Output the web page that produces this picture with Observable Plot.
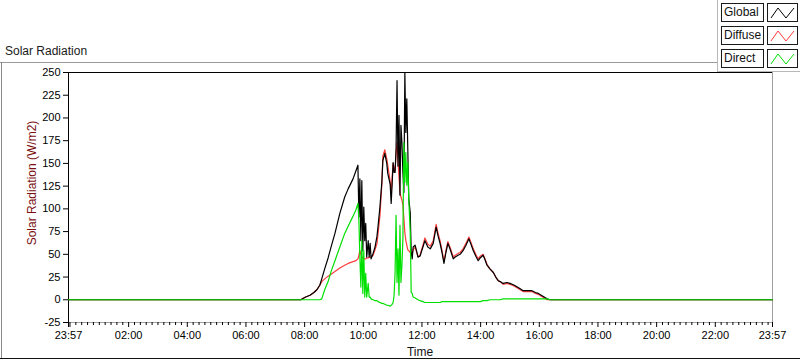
<!DOCTYPE html>
<html>
<head>
<meta charset="utf-8">
<script src="https://cdn.jsdelivr.net/npm/d3@7"></script>
<script src="https://cdn.jsdelivr.net/npm/@observablehq/plot@0.6"></script>
<style>
  html, body { margin: 0; padding: 0; background: #fff; }
  #wrap { position: relative; width: 800px; height: 361px; overflow: hidden; background: #fff;
          font-family: "Liberation Sans", Arial, sans-serif; color: #111; }
  #chart { position: absolute; left: 0; top: 0; }
  #chart svg g[aria-label="rule"] line { shape-rendering: crispEdges; }
  .abs { position: absolute; }
  .legend-panel { left: 717px; top: 0; width: 83px; height: 71px; background: #fff;
                  border-left: 1px solid #b8b8b8; border-bottom: 1px solid #b8b8b8; }
  .lab { position: absolute; left: 3px; border: 1px solid #1a1a1a;
         background: #fff; font-size: 12px; line-height: 17px; padding-left: 2px; box-sizing: border-box; width: 43px; height: 19px; }
  .ico { position: absolute; left: 49px; width: 31px; height: 19px; border: 1px solid #1a1a1a;
         background: #fff; box-sizing: border-box; }
</style>
</head>
<body>
<div id="wrap">
  <div id="chart"></div>
  <div class="abs" style="left:0;top:62px;width:717px;height:1px;background:#9a9a9a"></div>
  <div class="abs" style="left:1px;top:62px;width:1px;height:297px;background:#8a8a8a"></div>
  <div class="abs" style="left:0;top:358px;width:800px;height:1px;background:#111"></div>
  <div class="abs" style="left:5px;top:44px;font-size:12px;line-height:14px;color:#1a1a1a">Solar Radiation</div>
  <div class="abs" id="ylab" style="left:32px;top:183px;font-size:12px;line-height:14px;color:#7a1010;white-space:nowrap;transform:translate(-50%,-50%) rotate(-90deg)">Solar Radiation (W/m2)</div>
  <div class="abs" id="xlab" style="left:420px;top:345px;font-size:12px;line-height:14px;color:#111;transform:translateX(-50%)">Time</div>
  <div class="abs legend-panel" id="legend"></div>
</div>
<script>
// ---- data ----
// time in minutes since midnight (-3 = 23:57 of the previous day, 1437 = 23:57)
const minutes = [-3, 472, 482, 491, 499, 505, 511, 515, 521, 528, 534, 542, 552, 562, 569, 579, 585, 589, 591, 593,
  595, 597, 599, 601, 603, 605, 607, 610, 612, 614, 616, 620, 624, 628, 630, 634, 638, 640, 644, 648,
  650, 655, 657, 659, 661, 663, 665, 667, 669, 671, 673, 675, 677, 679, 681, 683, 685, 687, 689, 691,
  693, 696, 698, 700, 702, 706, 712, 716, 722, 726, 732, 737, 743, 749, 753, 757, 761, 765, 769, 773,
  778, 784, 788, 794, 798, 804, 810, 816, 821, 825, 831, 835, 839, 845, 849, 853, 859, 866, 872, 876,
  880, 886, 894, 900, 909, 915, 921, 927, 935, 945, 952, 958, 964, 970, 976, 982, 1437];

const globalW = [0, 0, 3, 5, 8, 11, 16, 23, 34, 46, 58, 73, 95, 113, 122, 133, 142, 148, 91, 133,
  65, 131, 54, 102, 65, 84, 47, 65, 47, 62, 45, 51, 58, 70, 80, 102, 130, 153, 161, 150,
  139, 127, 106, 127, 151, 140, 140, 166, 241, 147, 203, 115, 192, 173, 140, 118, 250, 184, 221, 166,
  111, 96, 52, 45, 58, 60, 47, 48, 58, 65, 58, 56, 62, 80, 70, 62, 52, 40, 52, 62,
  55, 45, 47, 49, 50, 54, 60, 67, 60, 54, 47, 43, 46, 49, 44, 38, 34, 30, 24, 21,
  20, 18, 19, 18, 16, 14, 12, 10, 10, 10, 8, 7, 5, 3, 1, 0, 0];

const diffuseW = [0, 0, 3, 5, 8, 11, 16, 20, 23, 26, 28, 31, 35, 38, 40, 42, 43, 45, 49, 54,
  50, 47, 46, 45, 45, 45, 46, 46, 47, 47, 47, 49, 55, 62, 72, 92, 128, 158, 165, 155,
  148, 130, 116, 135, 150, 145, 142, 160, 173, 153, 135, 118, 113, 110, 104, 90, 74, 65, 60, 55,
  54, 52, 52, 51, 55, 58, 47, 49, 60, 68, 61, 59, 65, 83, 73, 65, 54, 42, 54, 64,
  57, 47, 49, 51, 52, 56, 62, 69, 62, 56, 49, 45, 48, 50, 45, 39, 34, 30, 24, 21,
  20, 17, 18, 17, 15, 13, 11, 9, 9, 9, 7, 6, 4, 2, 0, 0, 0];

const directW = [0, 0, 0, 0, 0, 0, 0, 1, 11, 20, 31, 43, 58, 73, 81, 92, 99, 106, 87, 47,
  14, 65, 7, 54, 3, 29, 3, 18, 3, 3, 1, 0, -1, -1, -2, -3, -4, -4, -5, -6,
  -6, -7, -6, -5, -3, 5, 30, 93, 19, 56, 5, 82, 19, 38, 67, 173, 129, 162, 126, 151,
  111, 74, 8, 7, 3, 2, 0, -1, -2, -3, -3, -3, -3, -3, -3, -3, -2, -2, -2, -2,
  -2, -2, -2, -2, -2, -2, -2, -2, -2, -2, -2, -2, -2, -1, -1, -1, 0, 0, 0, 0,
  0, 1, 1, 1, 1, 1, 1, 1, 1, 1, 1, 1, 1, 1, 1, 0, 0];

const seriesNames = ["Global", "Diffuse", "Direct"];
const seriesColors = ["#000000", "#ff3b3b", "#00e000"];

const yTicks = [-25, 0, 25, 50, 75, 100, 125, 150, 175, 200, 225, 250];
const xTicks = [-3, 0, 120, 240, 360, 480, 600, 720, 840, 960, 1080, 1200, 1320, 1437];

// ---- build ----
const rows = minutes.map((m, i) => ({m, Global: globalW[i], Diffuse: diffuseW[i], Direct: directW[i]}));
const fmtTime = m => {
  if (m === 0) return "";
  const mm = ((m % 1440) + 1440) % 1440;
  return String(Math.floor(mm / 60)).padStart(2, "0") + ":" + String(mm % 60).padStart(2, "0");
};
const minorTicks = d3.range(0, 1437, 12).filter(m => m % 120 !== 0);

const chart = Plot.plot({
  width: 800,
  height: 361,
  marginLeft: 68,
  marginRight: 28,
  marginTop: 72,
  marginBottom: 39,
  style: {background: "transparent", fontFamily: "'Liberation Sans', Arial, sans-serif", fontSize: "11px", color: "#000", overflow: "visible"},
  x: {domain: [-3, 1437], label: null},
  y: {domain: [-25, 250], label: null},
  marks: [
    Plot.ruleY([-25], {stroke: "#a0a0a0"}),
    Plot.ruleX([1437], {stroke: "#a0a0a0"}),
    Plot.ruleY([250], {stroke: "#000"}),
    Plot.ruleX([-3], {stroke: "#000"}),
    Plot.axisY({ticks: yTicks, tickSize: 5, tickPadding: 3, tickFormat: d => String(d), label: null}),
    Plot.axisX({ticks: xTicks, tickSize: 5, tickPadding: 4, tickFormat: fmtTime, label: null}),
    Plot.axisX({ticks: minorTicks, tickSize: 3, tickFormat: () => "", label: null}),
    Plot.line(rows, {x: "m", y: "Diffuse", stroke: seriesColors[1], strokeWidth: 1.2}),
    Plot.line(rows, {x: "m", y: "Global", stroke: seriesColors[0], strokeWidth: 1.2}),
    Plot.line(rows, {x: "m", y: "Direct", stroke: seriesColors[2], strokeWidth: 1.2})
  ]
});
document.getElementById("chart").appendChild(chart);

// legend
const legend = document.getElementById("legend");
seriesNames.forEach((name, i) => {
  const top = 3 + i * 23;
  const lab = document.createElement("div");
  lab.className = "lab";
  lab.style.top = top + "px";
  lab.textContent = name;
  legend.appendChild(lab);
  const ico = document.createElement("div");
  ico.className = "ico";
  ico.style.top = top + "px";
  ico.innerHTML = `<svg width="29" height="17" style="display:block"><polyline points="3,14 10,4 18,14 26,4" fill="none" stroke="${seriesColors[i]}" stroke-width="1"/></svg>`;
  legend.appendChild(ico);
});
</script>
</body>
</html>
